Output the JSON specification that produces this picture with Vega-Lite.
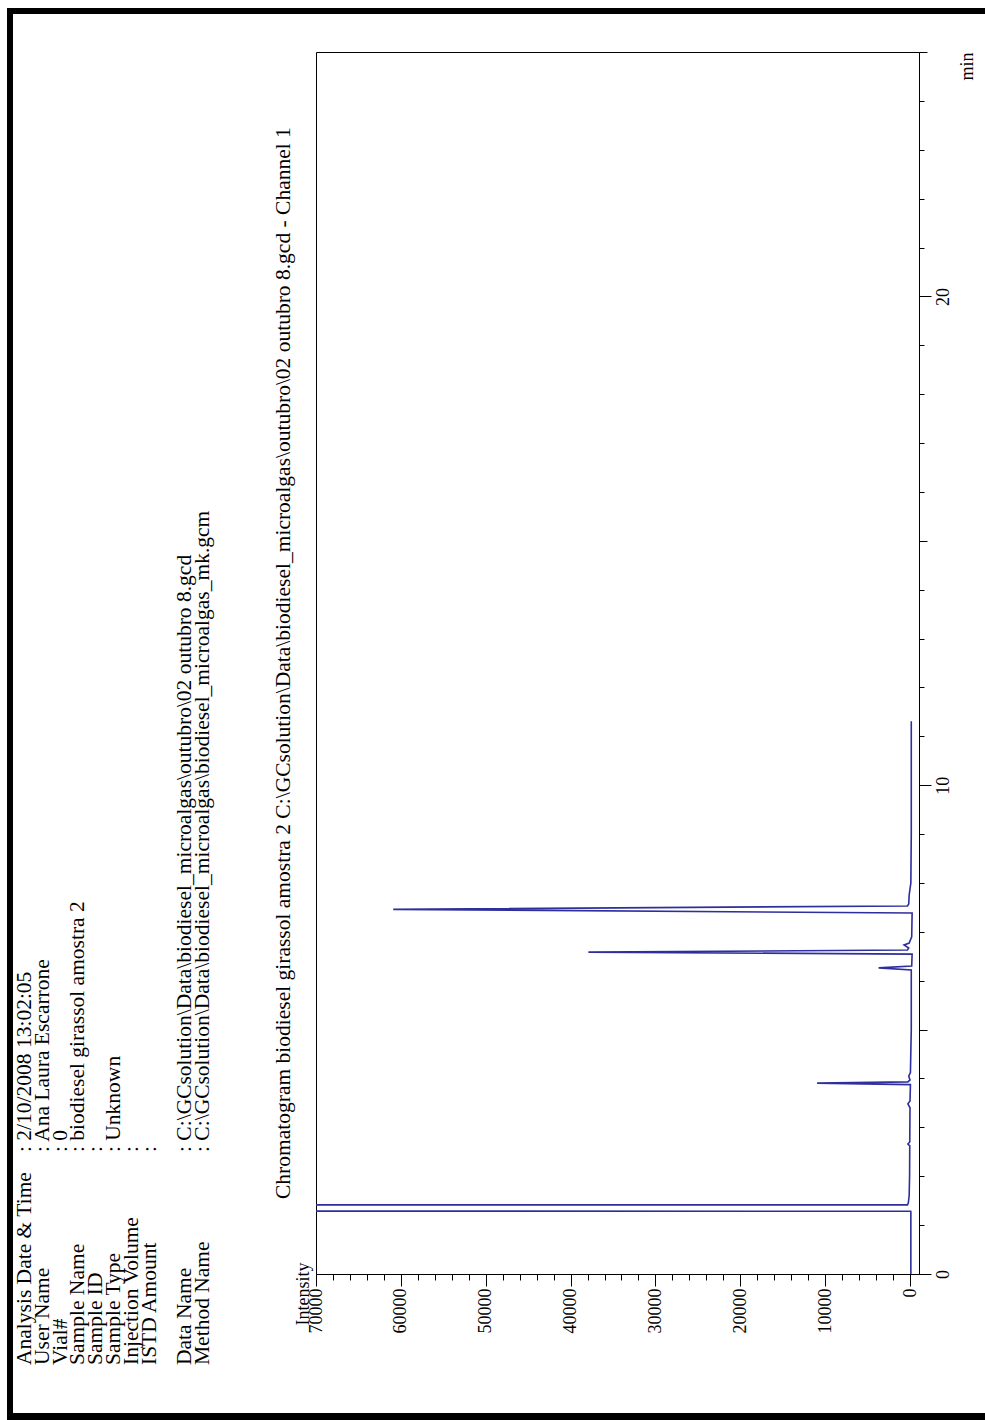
{
  "$schema": "https://vega.github.io/schema/vega-lite/v6.json",
  "background": "white",
  "padding": {"left": 7, "top": 8, "right": 0, "bottom": 0},
  "spacing": 0,
  "config": {"concat": {"spacing": 0}, "view": {"stroke": null}, "font": "Liberation Serif",
             "axis": {"titleFont": "Liberation Serif", "titleFontSize": 18, "titleFontWeight": "normal", "titleColor": "black", "titleLimit": 200}},
  "vconcat": [
    {"width": 978, "height": 6, "view": {"fill": "black", "stroke": null}, "data": {"values": [{}]}, "mark": {"type": "rect", "opacity": 0}, "encoding": {}},
    {"spacing": 0, "hconcat": [
      {"width": 6, "height": 1399, "view": {"fill": "black", "stroke": null}, "data": {"values": [{}]}, "mark": {"type": "rect", "opacity": 0}, "encoding": {}},
      {"width": 252, "height": 1351,
       "data": {"values": [
         {"line": 1, "label": "Analysis Date & Time", "value": ": 2/10/2008 13:02:05"},
         {"line": 2, "label": "User Name", "value": ": Ana Laura Escarrone"},
         {"line": 3, "label": "Vial#", "value": ": 0"},
         {"line": 4, "label": "Sample Name", "value": ": biodiesel girassol amostra 2"},
         {"line": 5, "label": "Sample ID", "value": ":"},
         {"line": 6, "label": "Sample Type", "value": ": Unknown"},
         {"line": 7, "label": "Injection Volume", "value": ":"},
         {"line": 8, "label": "ISTD Amount", "value": ":"},
         {"line": 10, "label": "Data Name", "value": ": C:\\GCsolution\\Data\\biodiesel_microalgas\\outubro\\02 outubro 8.gcd"},
         {"line": 11, "label": "Method Name", "value": ": C:\\GCsolution\\Data\\biodiesel_microalgas\\biodiesel_microalgas_mk.gcm"}
       ]},
       "layer": [
         {"mark": {"type": "text", "angle": 270, "align": "left", "baseline": "middle", "font": "Liberation Serif", "fontSize": 21.5, "color": "black"},
          "encoding": {
            "x": {"field": "line", "type": "quantitative", "scale": {"domain": [0.663, 14.82], "nice": false, "zero": false}, "axis": null},
            "y": {"value": "height"},
            "text": {"field": "label"}
          }},
         {"mark": {"type": "text", "angle": 270, "align": "left", "baseline": "middle", "font": "Liberation Serif", "fontSize": 21.5, "color": "black", "dx": 213},
          "encoding": {
            "x": {"field": "line", "type": "quantitative", "scale": {"domain": [0.663, 14.82], "nice": false, "zero": false}, "axis": null},
            "y": {"value": "height"},
            "text": {"field": "value"}
          }}
       ]},
      {"spacing": 0, "vconcat": [
        {"width": 603, "height": 37, "data": {"values": [{}]}, "mark": {"type": "rect", "opacity": 0}, "encoding": {}},
        {"width": 603, "height": 1222,
         "view": {"stroke": "black", "strokeWidth": 1},
         "title": {"text": "Chromatogram biodiesel girassol amostra 2 C:\\GCsolution\\Data\\biodiesel_microalgas\\outubro\\02 outubro 8.gcd - Channel 1", "orient": "left", "anchor": "start", "frame": "group", "dx": 75, "offset": 0, "font": "Liberation Serif", "fontSize": 21.5, "fontWeight": "normal", "color": "black"},
         "data": {"values": [
           {"t": 0, "intensity": -100},
           {"t": 1.27, "intensity": -100},
           {"t": 1.285, "intensity": -80},
           {"t": 1.29, "intensity": 400000},
           {"t": 1.41, "intensity": 400000},
           {"t": 1.415, "intensity": 300},
           {"t": 1.45, "intensity": 200},
           {"t": 1.6, "intensity": 100},
           {"t": 2.0, "intensity": 50},
           {"t": 2.62, "intensity": 30},
           {"t": 2.66, "intensity": 250},
           {"t": 2.7, "intensity": 30},
           {"t": 3.4, "intensity": 0},
           {"t": 3.48, "intensity": 250},
           {"t": 3.54, "intensity": 0},
           {"t": 3.875, "intensity": -50},
           {"t": 3.905, "intensity": 10950},
           {"t": 3.93, "intensity": 250},
           {"t": 3.97, "intensity": 0},
           {"t": 4.05, "intensity": 150},
           {"t": 4.12, "intensity": -50},
           {"t": 5.0, "intensity": -150},
           {"t": 6.0, "intensity": -150},
           {"t": 6.22, "intensity": -150},
           {"t": 6.262, "intensity": 3700},
           {"t": 6.3, "intensity": -200},
           {"t": 6.545, "intensity": -250},
           {"t": 6.585, "intensity": 37900},
           {"t": 6.628, "intensity": 300},
           {"t": 6.67, "intensity": 150},
           {"t": 6.73, "intensity": 700},
           {"t": 6.77, "intensity": 100},
           {"t": 6.9, "intensity": -200},
           {"t": 7.385, "intensity": -250},
           {"t": 7.46, "intensity": 60900},
           {"t": 7.53, "intensity": 300},
           {"t": 7.57, "intensity": 150},
           {"t": 7.75, "intensity": 100},
           {"t": 8.0, "intensity": -100},
           {"t": 9.0, "intensity": -150},
           {"t": 10.0, "intensity": -150},
           {"t": 11.31, "intensity": -150}
         ]},
         "mark": {"type": "line", "color": "#2e2e9c", "strokeWidth": 1.6, "clip": true},
         "encoding": {
           "x": {"field": "intensity", "type": "quantitative",
                 "scale": {"domain": [-1060, 70000], "reverse": true, "nice": false, "zero": false},
                 "axis": {"orient": "bottom",
                          "values": [0,2000,4000,6000,8000,10000,12000,14000,16000,18000,20000,22000,24000,26000,28000,30000,32000,34000,36000,38000,40000,42000,44000,46000,48000,50000,52000,54000,56000,58000,60000,62000,64000,66000,68000,70000],
                          "format": "d",
                          "labelExpr": "datum.value % 10000 === 0 ? datum.label : ''",
                          "labelAngle": 270, "labelAlign": "right", "labelBaseline": "middle",
                          "labelFont": "Liberation Serif", "labelFontSize": 18, "labelColor": "black",
                          "labelPadding": 2, "labelOverlap": false, "labelFlush": false, "labelBound": false,
                          "tickColor": "black", "tickWidth": 1,
                          "tickSize": {"condition": {"test": "datum.value % 10000 === 0", "value": 12}, "value": 6},
                          "domainColor": "black", "domainWidth": 1, "grid": false,
                          "title": "Intensity",
                          "titleAngle": 270, "titleAlign": "left", "titleBaseline": "middle", "titleX": -13, "titleY": 51}},
           "y": {"field": "t", "type": "quantitative",
                 "scale": {"domain": [0, 25], "nice": false, "zero": false},
                 "axis": {"orient": "right",
                          "values": [0,1,2,3,4,5,6,7,8,9,10,11,12,13,14,15,16,17,18,19,20,21,22,23,24,25],
                          "labelExpr": "datum.value % 10 === 0 ? datum.label : ''",
                          "labelAngle": 270, "labelAlign": "center", "labelBaseline": "top",
                          "labelFont": "Liberation Serif", "labelFontSize": 18, "labelColor": "black",
                          "labelPadding": 3, "labelOverlap": false, "labelFlush": false, "labelBound": false,
                          "tickColor": "black", "tickWidth": 1,
                          "tickSize": {"condition": [{"test": "datum.value % 10 === 0", "value": 12}, {"test": "datum.value % 5 === 0", "value": 8}], "value": 5},
                          "domainColor": "black", "domainWidth": 1, "grid": false,
                          "title": "min",
                          "titleAngle": 270, "titleAlign": "right", "titleBaseline": "middle", "titleX": 48, "titleY": 0}},
           "order": {"field": "t"}
         }}
      ]}
    ]},
    {"width": 978, "height": 7, "view": {"fill": "black", "stroke": null}, "data": {"values": [{}]}, "mark": {"type": "rect", "opacity": 0}, "encoding": {}}
  ]
}
